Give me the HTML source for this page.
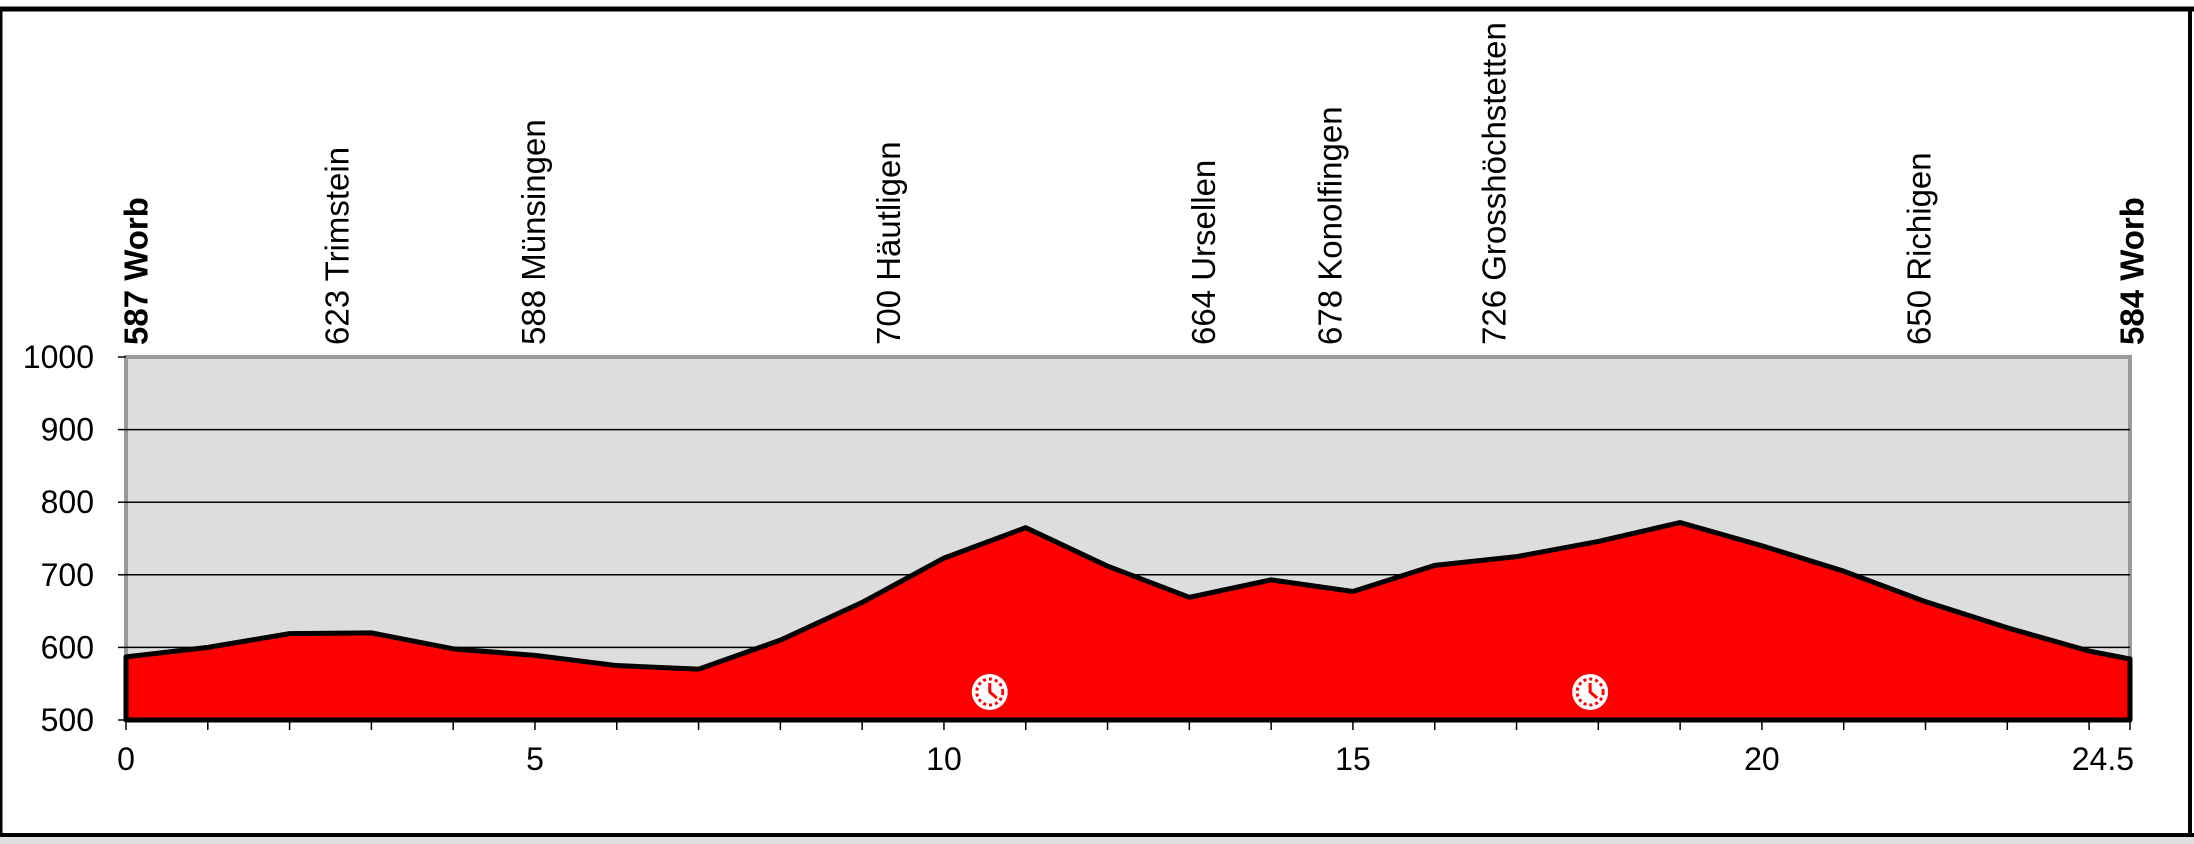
<!DOCTYPE html>
<html><head><meta charset="utf-8"><style>
html,body{margin:0;padding:0;background:#fff;}
svg{display:block;font-family:"Liberation Sans",sans-serif;}
</style></head><body>
<svg id="chart" width="2194" height="844" viewBox="0 0 2194 844">
<rect x="0" y="0" width="2194" height="844" fill="#fff"/>
<rect x="0" y="836" width="2194" height="8" fill="#e0e0e0"/>
<line x1="0" y1="9" x2="2194" y2="9" stroke="#000" stroke-width="5"/>
<line x1="1" y1="9" x2="1" y2="836" stroke="#000" stroke-width="3"/>
<line x1="2190" y1="9" x2="2190" y2="836" stroke="#000" stroke-width="4"/>
<line x1="0" y1="835" x2="2194" y2="835" stroke="#000" stroke-width="4"/>
<g id="plot"></g>
</svg>
<script>
const kms = [0,1,2,3,4,5,6,7,8,9,10,11,12,13,14,15,16,17,18,19,20,21,22,23,24,24.5];
const elev = [587,600,619,620,598,589,575,570,610,662,723,765,712,669,693,677,713,725,746,772,740,705,663,627,595,584];
const yTicks = [500,600,700,800,900,1000];
const xTickLabels = [0,5,10,15,20,24.5];
const placeKm = [0,2.46,4.86,9.2,13.05,14.6,16.6,21.8,24.4];
const placeNames = ["587 Worb","623 Trimstein","588 Münsingen","700 Häutligen","664 Ursellen","678 Konolfingen","726 Grosshöchstetten","650 Richigen","584 Worb"];
const placeBold = [true,false,false,false,false,false,false,false,true];
const clockKm = [10.56,17.9];

const L=126,R=2130,T=357,B=720,XMAX=24.5,YMIN=500,YMAX=1000;
const sx=v=>L+(R-L)*v/XMAX;
const sy=v=>B-(B-T)*(v-YMIN)/(YMAX-YMIN);
const NS="http://www.w3.org/2000/svg";
const g=document.getElementById('plot');
function mk(tag,attrs){const e=document.createElementNS(NS,tag);for(const k in attrs)e.setAttribute(k,attrs[k]);g.appendChild(e);return e;}

let e=mk('rect',{x:L,y:T,width:R-L,height:B-T,fill:'#dddddd',stroke:'#999',"stroke-width":4});



yTicks.forEach(v=>{
  if(v>YMIN&&v<YMAX){const l=mk('line',{x1:L,x2:R,y1:sy(v),y2:sy(v),stroke:'#000',"stroke-width":1.5});
  
  }
  const tk=mk('line',{x1:L-8,x2:L,y1:sy(v),y2:sy(v),stroke:'#000',"stroke-width":1.5});
  
  
  const t=mk('text',{x:94,y:sy(v)+11,"text-anchor":'end',"font-size":32,fill:'#000'});
  t.textContent=v;
  
  
});

let d='M'+sx(kms[0])+','+sy(YMIN);
kms.forEach((k,i)=>{d+=' L'+sx(k)+','+sy(elev[i]);});
d+=' L'+sx(kms[kms.length-1])+','+sy(YMIN)+' Z';
const area=mk('path',{d:d,fill:'#ff0000',stroke:'#000',"stroke-width":5,"stroke-linejoin":'round'});



for(let k=0;k<=Math.floor(XMAX);k++){
  const tk=mk('line',{x1:sx(k),x2:sx(k),y1:B,y2:B+10,stroke:'#000',"stroke-width":1.5});
  
  
}
const tkEnd=mk('line',{x1:sx(XMAX),x2:sx(XMAX),y1:B,y2:B+10,stroke:'#000',"stroke-width":1.5});


xTickLabels.forEach(v=>{
  const t=mk('text',{x:sx(v),y:770,"text-anchor":v===XMAX?'end':'middle',"font-size":32,fill:'#000'});
  if(v===XMAX)t.setAttribute('x',sx(v)+4);
  t.textContent=v;
  
  
});

placeKm.forEach((k,i)=>{
  const x=sx(k)+10;
  const t=mk('text',{transform:'translate('+x+',345) rotate(-90)',"dominant-baseline":'central',"font-size":33,"font-weight":placeBold[i]?'bold':'normal',fill:'#000'});
  t.textContent=placeNames[i];
  
  
});

clockKm.forEach(k=>{
  const cx=sx(k),cy=692;
  const c=mk('circle',{cx:cx,cy:cy,r:18,fill:'#fff'});
  
  
  const c2=mk('circle',{cx:cx,cy:cy,r:13,fill:'none',stroke:'#ff0000',"stroke-width":3,"stroke-dasharray":'3 3'});
  
  
  const h=mk('path',{d:'M'+cx+','+(cy-9)+' L'+cx+','+cy+' L'+(cx+7)+','+(cy+6),stroke:'#ff0000',"stroke-width":3,fill:'none'});
  
  
});
</script>
</body></html>
